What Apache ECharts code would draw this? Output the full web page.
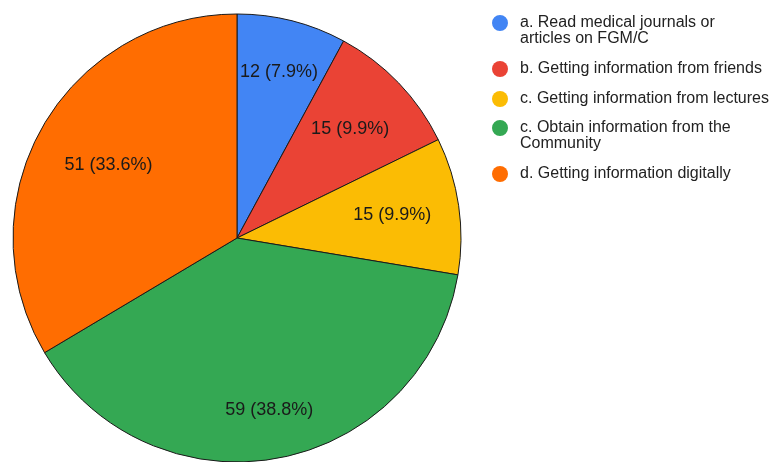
<!DOCTYPE html>
<html>
<head>
<meta charset="utf-8">
<script src="https://cdn.jsdelivr.net/npm/echarts@6/dist/echarts.min.js"></script>
<style>
  html, body { margin: 0; padding: 0; background: #fff; }
  #chart { width: 774px; height: 462px; }
</style>
</head>
<body>
<div id="chart"></div>
<script>
// Sources of information about FGM/C
const categories = [
  'a. Read medical journals or articles on FGM/C',
  'b. Getting information from friends',
  'c. Getting information from lectures',
  'c. Obtain information from the Community',
  'd. Getting information digitally'
];
const counts = [12, 15, 15, 59, 51];
const colors = ['#4285f4', '#ea4335', '#fbbc04', '#34a853', '#ff6d01'];

// Pie geometry and label placement (fraction of radius for each slice label)
const pieCenter = [237, 238];
const pieRadius = 224;
const labelRadiusFrac = [0.763, 0.70, 0.70, 0.78, 0.66];
const FONT = '"Liberation Sans", Arial, sans-serif';

const total = counts.reduce((a, b) => a + b, 0);
const cumStart = [];
counts.reduce((acc, v, i) => { cumStart[i] = acc; return acc + v; }, 0);

// Legend: one block per entry; wrapped entries keep the dot beside their first line
const legendFirstLine = [23, 69, 99, 128, 174];
const wordsOnFirstLine = [5, 0, 0, 5, 0];   // 0 = single line
const LINE = 16;
// dot at the top of a two-line-tall box (the zero-area segment only sets the box height)
const tallDot = 'path://M8,0A8,8,0,1,1,8,16A8,8,0,1,1,8,0ZM0,32L16,32';

function wrapName(name, i) {
  const n = wordsOnFirstLine[i];
  if (!n) return name;
  const w = name.split(' ');
  return w.slice(0, n).join(' ') + '\n' + w.slice(n).join(' ');
}

const legends = categories.map((name, i) => {
  const wrapped = wordsOnFirstLine[i] > 0;
  return {
    orient: 'vertical',
    left: 492,
    top: legendFirstLine[i] - LINE / 2,
    padding: 0,
    itemWidth: 16,
    itemHeight: wrapped ? 2 * LINE : LINE,
    icon: wrapped ? tallDot : 'circle',
    selectedMode: false,
    itemStyle: { borderWidth: 0 },
    data: [name],
    formatter: n => wrapName(n, i),
    textStyle: {
      fontFamily: FONT,
      fontSize: 16,
      color: '#222',
      lineHeight: LINE,
      padding: [0, 0, 0, 7]
    }
  };
});

const chart = echarts.init(document.getElementById('chart'), null, { renderer: 'canvas' });
chart.setOption({
  animation: false,
  color: colors,
  legend: legends,
  series: [{
    type: 'pie',
    center: pieCenter,
    radius: pieRadius,
    startAngle: 90,
    clockwise: true,
    avoidLabelOverlap: false,
    emphasis: { disabled: true },
    itemStyle: { borderColor: '#1a1a1a', borderWidth: 1 },
    label: {
      show: true,
      position: 'inside',
      fontFamily: FONT,
      fontSize: 18,
      color: '#1a1a1a',
      formatter: p => p.value + ' (' + (p.value / total * 100).toFixed(1) + '%)'
    },
    labelLine: { show: false },
    labelLayout: params => {
      const i = params.dataIndex;
      const mid = (cumStart[i] + counts[i] / 2) / total * 2 * Math.PI;
      const r = pieRadius * labelRadiusFrac[i];
      return {
        x: pieCenter[0] + r * Math.sin(mid),
        y: pieCenter[1] - r * Math.cos(mid),
        align: 'center',
        verticalAlign: 'middle'
      };
    },
    data: categories.map((name, i) => ({ name, value: counts[i] }))
  }]
});
</script>
</body>
</html>
